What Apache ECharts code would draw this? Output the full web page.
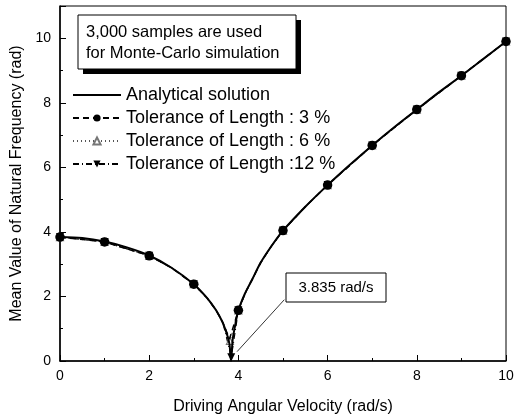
<!DOCTYPE html>
<html>
<head>
<meta charset="utf-8">
<script src="https://cdn.jsdelivr.net/npm/echarts@6/dist/echarts.min.js"></script>
<style>html,body{margin:0;padding:0;background:#fff}#c{width:522px;height:420px}</style>
</head>
<body>
<div id="c"></div>
<script>
// Analytical solution
const analyticalX = [0, 0.5, 1, 1.5, 2, 2.5, 3, 3.3, 3.5, 3.65, 3.75, 3.8, 3.835, 3.87, 3.92, 4, 4.15, 4.3, 4.5, 4.75, 5, 5.5, 6, 6.5, 7, 7.5, 8, 8.5, 9, 9.5, 10];
const analyticalY = [3.84, 3.81, 3.70, 3.52, 3.27, 2.89, 2.38, 1.95, 1.57, 1.18, 0.80, 0.52, 0.0, 0.65, 1.05, 1.57, 2.1, 2.5, 3.05, 3.58, 4.04, 4.78, 5.45, 6.08, 6.68, 7.25, 7.79, 8.33, 8.84, 9.37, 9.9];
// Monte-Carlo means; markers only where the picture shows one
const tol3X = [0, 1, 2, 2.5, 3, 3.3, 3.5, 3.65, 3.8, 4, 4.15, 4.3, 4.5, 4.75, 5, 5.5, 6, 7, 8, 9, 10];
const tol3Y = [3.84, 3.69, 3.26, 2.89, 2.38, 1.95, 1.57, 1.2, 0.68, 1.57, 2.1, 2.5, 3.05, 3.58, 4.04, 4.78, 5.45, 6.68, 7.79, 8.84, 9.9];
const tol3Marks = [0, 1, 2, 3, 4, 5, 6, 7, 8, 9, 10];
const tol6X = [0, 1, 2, 2.5, 3, 3.3, 3.5, 3.65, 3.81, 4, 4.15, 4.3, 4.5, 4.75, 5, 5.5, 6, 7, 8, 9, 10];
const tol6Y = [3.84, 3.69, 3.26, 2.89, 2.38, 1.95, 1.57, 1.2, 0.62, 1.57, 2.1, 2.5, 3.05, 3.58, 4.04, 4.78, 5.45, 6.68, 7.79, 8.84, 9.9];
const tol6Marks = [0, 1, 2, 3, 3.81, 4, 5, 6, 7, 8, 9, 10];
const tol12X = [0, 1, 2, 2.5, 3, 3.3, 3.5, 3.65, 3.84, 4, 4.15, 4.3, 4.5, 4.75, 5, 5.5, 6, 7, 8, 9, 10];
const tol12Y = [3.84, 3.69, 3.26, 2.89, 2.38, 1.95, 1.57, 1.2, 0.12, 1.57, 2.1, 2.5, 3.05, 3.58, 4.04, 4.78, 5.45, 6.68, 7.79, 8.84, 9.9];
const tol12Marks = [0, 1, 2, 3, 3.84, 4, 5, 6, 7, 8, 9, 10];
const seriesNames = ['Analytical solution', 'Tolerance of Length : 3 %', 'Tolerance of Length : 6 %', 'Tolerance of Length :12 %'];
const noteLines = ['3,000 samples are used', 'for Monte-Carlo simulation'];
const criticalLabel = '3.835 rad/s';
const leaderFrom = [3.97, 0.29];
const leaderTo = [5.03, 1.90];

const FONT = '"Liberation Sans", Arial, sans-serif';
const zip = (xs, ys) => xs.map((x, i) => [x, ys[i]]);
const marked = (xs, ys, marks) => xs.map((x, i) => marks.includes(x) ? [x, ys[i]] : {value: [x, ys[i]], symbol: 'none'});

const chart = echarts.init(document.getElementById('c'), null, {renderer: 'canvas'});
chart.setOption({
  animation: false,
  backgroundColor: '#fff',
  grid: {left: 60, right: 16, top: 6, bottom: 55, show: true, borderColor: '#000', borderWidth: 1},
  xAxis: {
    type: 'value', min: 0, max: 10, interval: 2,
    name: 'Driving Angular Velocity (rad/s)', nameLocation: 'middle', nameGap: 38,
    nameTextStyle: {fontFamily: FONT, fontSize: 16, color: '#000'},
    axisLine: {lineStyle: {color: '#000', width: 1.5}},
    axisTick: {inside: true, length: 6, lineStyle: {color: '#000'}},
    minorTick: {show: true, splitNumber: 2, length: 3, lineStyle: {color: '#000'}},
    axisLabel: {fontFamily: FONT, fontSize: 14, color: '#000', margin: 8},
    splitLine: {show: false}
  },
  yAxis: {
    type: 'value', min: 0, max: 11, interval: 2,
    name: 'Mean Value of Natural Frequency (rad)', nameLocation: 'middle', nameGap: 31,
    nameTextStyle: {fontFamily: FONT, fontSize: 16, color: '#000'},
    axisLine: {lineStyle: {color: '#000', width: 1.5}},
    axisTick: {inside: true, length: 6, lineStyle: {color: '#000'}},
    minorTick: {show: true, splitNumber: 2, length: 3, lineStyle: {color: '#000'}},
    axisLabel: {fontFamily: FONT, fontSize: 14, color: '#000', margin: 9, showMaxLabel: false},
    splitLine: {show: false}
  },
  legend: {
    orient: 'vertical', left: 67, top: 81, itemWidth: 48, itemHeight: 9, itemGap: 5,
    textStyle: {fontFamily: FONT, fontSize: 18, color: '#000'},
    data: [
      {name: seriesNames[0], itemStyle: {opacity: 0}},
      seriesNames[1], seriesNames[2], seriesNames[3]
    ]
  },
  series: [
    {
      name: seriesNames[0], type: 'line', data: zip(analyticalX, analyticalY), smooth: 0.3,
      showSymbol: false, symbol: 'none', z: 5,
      itemStyle: {color: '#000'},
      lineStyle: {color: '#000', width: 2},
      markLine: {
        silent: true, symbol: 'none', label: {show: false},
        lineStyle: {color: '#000', width: 0.8, type: 'solid'},
        data: [[{coord: leaderFrom}, {coord: leaderTo}]]
      }
    },
    {
      name: seriesNames[1], type: 'line', z: 6, clip: false,
      data: marked(tol3X, tol3Y, tol3Marks),
      symbol: 'circle', symbolSize: 9.5,
      itemStyle: {color: '#000'},
      lineStyle: {color: '#000', width: 1.5, type: [6, 4]}
    },
    {
      name: seriesNames[2], type: 'line', z: 4, clip: false,
      data: marked(tol6X, tol6Y, tol6Marks),
      symbol: 'triangle', symbolSize: 7,
      itemStyle: {color: '#fff', borderColor: '#777', borderWidth: 1.2},
      lineStyle: {color: '#555', width: 1.2, type: [1, 3]}
    },
    {
      name: seriesNames[3], type: 'line', z: 3, clip: false,
      data: marked(tol12X, tol12Y, tol12Marks),
      symbol: 'triangle', symbolRotate: 180, symbolSize: 8,
      itemStyle: {color: '#000'},
      lineStyle: {color: '#000', width: 1.2, type: [6, 3, 1, 3]}
    }
  ],
  graphic: [
    {type: 'rect', shape: {x: 83, y: 20, width: 218, height: 54}, style: {fill: '#000'}, z: 10},
    {type: 'rect', shape: {x: 78, y: 15, width: 218, height: 54}, style: {fill: '#fff', stroke: '#000', lineWidth: 1}, z: 11},
    {type: 'text', x: 86, y: 32.5, style: {text: noteLines[0], font: '16.5px ' + FONT, fill: '#000', verticalAlign: 'middle'}, z: 12},
    {type: 'text', x: 86, y: 53.5, style: {text: noteLines[1], font: '16.5px ' + FONT, fill: '#000', verticalAlign: 'middle'}, z: 12},
    {type: 'rect', shape: {x: 286, y: 273, width: 100, height: 29}, style: {fill: '#fff', stroke: '#000', lineWidth: 1}, z: 11},
    {type: 'text', x: 336, y: 287.5, style: {text: criticalLabel, font: '15px ' + FONT, fill: '#000', align: 'center', verticalAlign: 'middle'}, z: 12}
  ]
});
</script>
</body>
</html>
